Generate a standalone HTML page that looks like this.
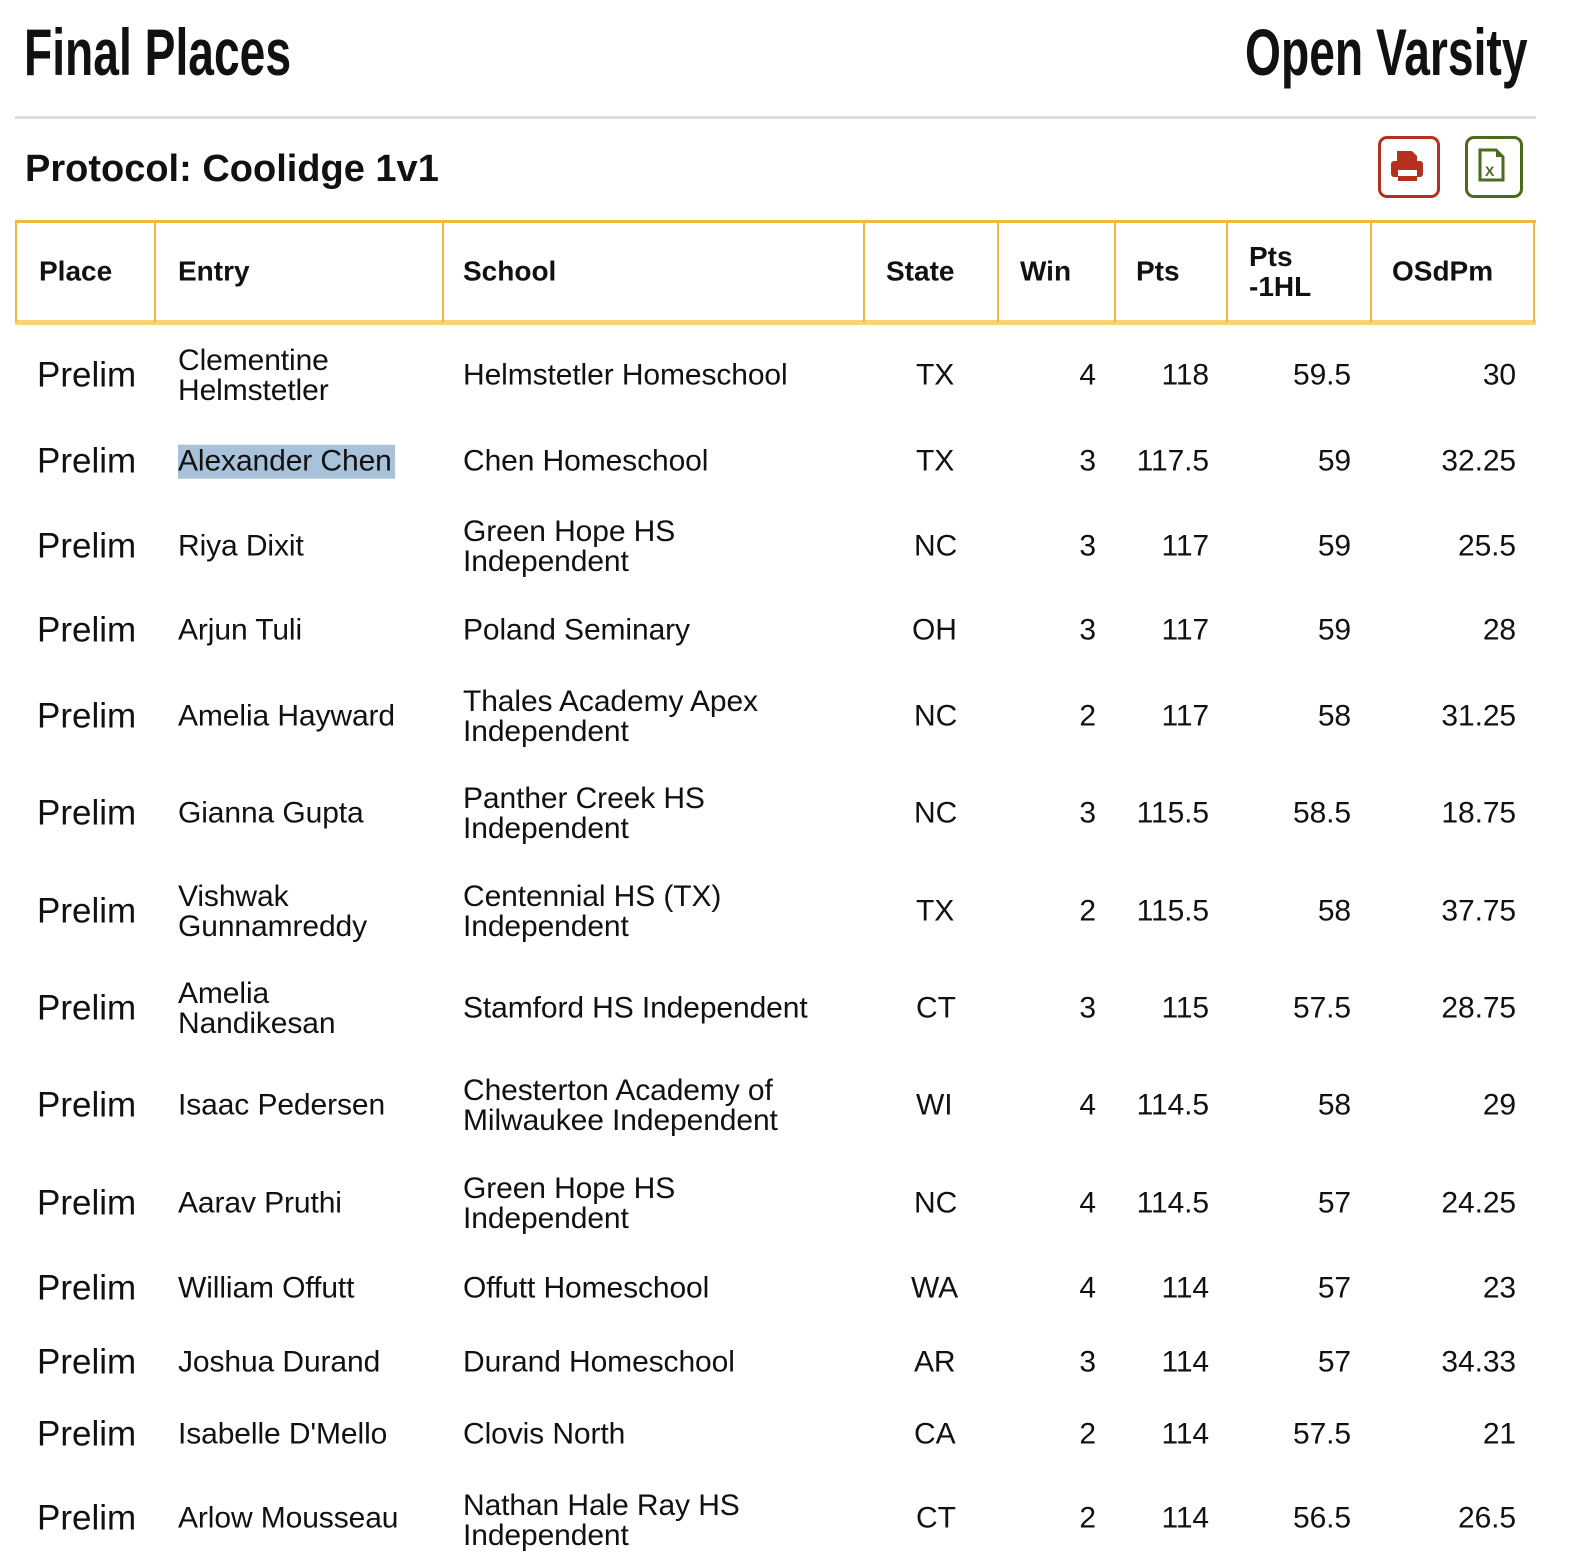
<!DOCTYPE html>
<html><head><meta charset="utf-8"><style>
html,body{margin:0;padding:0;background:#fff;}
body{width:1572px;height:1534px;overflow:hidden;position:relative;font-family:"Liberation Sans",sans-serif;color:#111;}
.t{position:absolute;white-space:nowrap;}
.h1{font-weight:bold;font-size:66px;top:14px;transform:scaleX(0.70);line-height:76px;}
.c{position:absolute;font-size:30px;letter-spacing:-0.1px;line-height:30px;white-space:nowrap;transform:translateY(-48%);}
.p{font-size:35px;letter-spacing:0;line-height:36px;}
.r{text-align:right;}
.hd{position:absolute;font-weight:bold;font-size:28px;line-height:30px;transform:translateY(-48%);}
.vl{position:absolute;top:222px;width:2px;height:100px;background:#f0b840;}
</style></head><body>
<div class="t h1" style="left:24px;transform-origin:left top;">Final Places</div>
<div class="t h1" style="right:44px;transform-origin:right top;">Open Varsity</div>
<div style="position:absolute;left:15px;top:116px;width:1521px;height:3px;background:#dcdcdc;"></div>
<div class="t" style="left:25px;top:146px;font-size:38px;font-weight:bold;line-height:46px;">Protocol: Coolidge 1v1</div>
<div style="position:absolute;left:1378px;top:136px;width:56px;height:56px;border:3px solid #b5301e;border-radius:9px;"></div>
<svg style="position:absolute;left:1388px;top:150px" width="40" height="34" viewBox="0 0 40 34"><rect x="9" y="1" width="15" height="10" fill="#b5301e"/><path d="M24 1 l5 5 v5 h-5z" fill="#b5301e"/><rect x="3" y="11" width="32" height="16" rx="3" fill="#b5301e"/><rect x="10" y="20" width="19" height="6" fill="#fff"/><rect x="10" y="26" width="19" height="5" fill="#b5301e"/></svg>
<div style="position:absolute;left:1465px;top:136px;width:52px;height:56px;border:3px solid #4a6b1c;border-radius:9px;"></div>
<svg style="position:absolute;left:1477px;top:147px" width="30" height="36" viewBox="0 0 30 36"><path d="M3 3 h16 l7 7 v23 h-23z" fill="none" stroke="#4a6b1c" stroke-width="3"/><path d="M19 3 v7 h7" fill="#4a6b1c"/><text x="8" y="29" font-size="14" font-family="Liberation Sans" fill="#4a6b1c" font-weight="bold">X</text></svg>
<div style="position:absolute;left:15px;top:220px;width:1521px;height:3px;background:#f0b840;"></div>
<div style="position:absolute;left:15px;top:320px;width:1521px;height:5px;background:#f8d478;"></div>
<div class="vl" style="left:15px"></div><div class="vl" style="left:154px"></div><div class="vl" style="left:442px"></div><div class="vl" style="left:863px"></div><div class="vl" style="left:997px"></div><div class="vl" style="left:1114px"></div><div class="vl" style="left:1226px"></div><div class="vl" style="left:1370px"></div><div class="vl" style="left:1533px"></div>
<div class="hd" style="left:39px;top:271px">Place</div>
<div class="hd" style="left:178px;top:271px">Entry</div>
<div class="hd" style="left:463px;top:271px">School</div>
<div class="hd" style="left:886px;top:271px">State</div>
<div class="hd" style="left:1020px;top:271px">Win</div>
<div class="hd" style="left:1136px;top:271px">Pts</div>
<div class="hd" style="left:1249px;top:271px">Pts<br>-1HL</div>
<div class="hd" style="left:1392px;top:271px">OSdPm</div>
<div class="c p" style="left:37px;top:375px">Prelim</div><div class="c" style="left:178px;top:375px">Clementine<br>Helmstetler</div><div class="c" style="left:463px;top:375px">Helmstetler Homeschool</div><div class="c" style="left:916px;top:375px">TX</div><div class="c r" style="right:476px;top:375px">4</div><div class="c r" style="right:363px;top:375px">118</div><div class="c r" style="right:221px;top:375px">59.5</div><div class="c r" style="right:56px;top:375px">30</div>
<div class="c p" style="left:37px;top:461px">Prelim</div><div class="c" style="left:178px;top:461px;background:#a8c2da;padding-right:3px;line-height:34px">Alexander Chen</div><div class="c" style="left:463px;top:461px">Chen Homeschool</div><div class="c" style="left:916px;top:461px">TX</div><div class="c r" style="right:476px;top:461px">3</div><div class="c r" style="right:363px;top:461px">117.5</div><div class="c r" style="right:221px;top:461px">59</div><div class="c r" style="right:56px;top:461px">32.25</div>
<div class="c p" style="left:37px;top:546px">Prelim</div><div class="c" style="left:178px;top:546px">Riya Dixit</div><div class="c" style="left:463px;top:546px">Green Hope HS<br>Independent</div><div class="c" style="left:914px;top:546px">NC</div><div class="c r" style="right:476px;top:546px">3</div><div class="c r" style="right:363px;top:546px">117</div><div class="c r" style="right:221px;top:546px">59</div><div class="c r" style="right:56px;top:546px">25.5</div>
<div class="c p" style="left:37px;top:630px">Prelim</div><div class="c" style="left:178px;top:630px">Arjun Tuli</div><div class="c" style="left:463px;top:630px">Poland Seminary</div><div class="c" style="left:912px;top:630px">OH</div><div class="c r" style="right:476px;top:630px">3</div><div class="c r" style="right:363px;top:630px">117</div><div class="c r" style="right:221px;top:630px">59</div><div class="c r" style="right:56px;top:630px">28</div>
<div class="c p" style="left:37px;top:716px">Prelim</div><div class="c" style="left:178px;top:716px">Amelia Hayward</div><div class="c" style="left:463px;top:716px">Thales Academy Apex<br>Independent</div><div class="c" style="left:914px;top:716px">NC</div><div class="c r" style="right:476px;top:716px">2</div><div class="c r" style="right:363px;top:716px">117</div><div class="c r" style="right:221px;top:716px">58</div><div class="c r" style="right:56px;top:716px">31.25</div>
<div class="c p" style="left:37px;top:813px">Prelim</div><div class="c" style="left:178px;top:813px">Gianna Gupta</div><div class="c" style="left:463px;top:813px">Panther Creek HS<br>Independent</div><div class="c" style="left:914px;top:813px">NC</div><div class="c r" style="right:476px;top:813px">3</div><div class="c r" style="right:363px;top:813px">115.5</div><div class="c r" style="right:221px;top:813px">58.5</div><div class="c r" style="right:56px;top:813px">18.75</div>
<div class="c p" style="left:37px;top:911px">Prelim</div><div class="c" style="left:178px;top:911px">Vishwak<br>Gunnamreddy</div><div class="c" style="left:463px;top:911px">Centennial HS (TX)<br>Independent</div><div class="c" style="left:916px;top:911px">TX</div><div class="c r" style="right:476px;top:911px">2</div><div class="c r" style="right:363px;top:911px">115.5</div><div class="c r" style="right:221px;top:911px">58</div><div class="c r" style="right:56px;top:911px">37.75</div>
<div class="c p" style="left:37px;top:1008px">Prelim</div><div class="c" style="left:178px;top:1008px">Amelia<br>Nandikesan</div><div class="c" style="left:463px;top:1008px">Stamford HS Independent</div><div class="c" style="left:916px;top:1008px">CT</div><div class="c r" style="right:476px;top:1008px">3</div><div class="c r" style="right:363px;top:1008px">115</div><div class="c r" style="right:221px;top:1008px">57.5</div><div class="c r" style="right:56px;top:1008px">28.75</div>
<div class="c p" style="left:37px;top:1105px">Prelim</div><div class="c" style="left:178px;top:1105px">Isaac Pedersen</div><div class="c" style="left:463px;top:1105px">Chesterton Academy of<br>Milwaukee Independent</div><div class="c" style="left:916px;top:1105px">WI</div><div class="c r" style="right:476px;top:1105px">4</div><div class="c r" style="right:363px;top:1105px">114.5</div><div class="c r" style="right:221px;top:1105px">58</div><div class="c r" style="right:56px;top:1105px">29</div>
<div class="c p" style="left:37px;top:1203px">Prelim</div><div class="c" style="left:178px;top:1203px">Aarav Pruthi</div><div class="c" style="left:463px;top:1203px">Green Hope HS<br>Independent</div><div class="c" style="left:914px;top:1203px">NC</div><div class="c r" style="right:476px;top:1203px">4</div><div class="c r" style="right:363px;top:1203px">114.5</div><div class="c r" style="right:221px;top:1203px">57</div><div class="c r" style="right:56px;top:1203px">24.25</div>
<div class="c p" style="left:37px;top:1288px">Prelim</div><div class="c" style="left:178px;top:1288px">William Offutt</div><div class="c" style="left:463px;top:1288px">Offutt Homeschool</div><div class="c" style="left:911px;top:1288px">WA</div><div class="c r" style="right:476px;top:1288px">4</div><div class="c r" style="right:363px;top:1288px">114</div><div class="c r" style="right:221px;top:1288px">57</div><div class="c r" style="right:56px;top:1288px">23</div>
<div class="c p" style="left:37px;top:1362px">Prelim</div><div class="c" style="left:178px;top:1362px">Joshua Durand</div><div class="c" style="left:463px;top:1362px">Durand Homeschool</div><div class="c" style="left:914px;top:1362px">AR</div><div class="c r" style="right:476px;top:1362px">3</div><div class="c r" style="right:363px;top:1362px">114</div><div class="c r" style="right:221px;top:1362px">57</div><div class="c r" style="right:56px;top:1362px">34.33</div>
<div class="c p" style="left:37px;top:1434px">Prelim</div><div class="c" style="left:178px;top:1434px">Isabelle D'Mello</div><div class="c" style="left:463px;top:1434px">Clovis North</div><div class="c" style="left:914px;top:1434px">CA</div><div class="c r" style="right:476px;top:1434px">2</div><div class="c r" style="right:363px;top:1434px">114</div><div class="c r" style="right:221px;top:1434px">57.5</div><div class="c r" style="right:56px;top:1434px">21</div>
<div class="c p" style="left:37px;top:1518px">Prelim</div><div class="c" style="left:178px;top:1518px">Arlow Mousseau</div><div class="c" style="left:463px;top:1520px">Nathan Hale Ray HS<br>Independent</div><div class="c" style="left:916px;top:1518px">CT</div><div class="c r" style="right:476px;top:1518px">2</div><div class="c r" style="right:363px;top:1518px">114</div><div class="c r" style="right:221px;top:1518px">56.5</div><div class="c r" style="right:56px;top:1518px">26.5</div>
</body></html>
